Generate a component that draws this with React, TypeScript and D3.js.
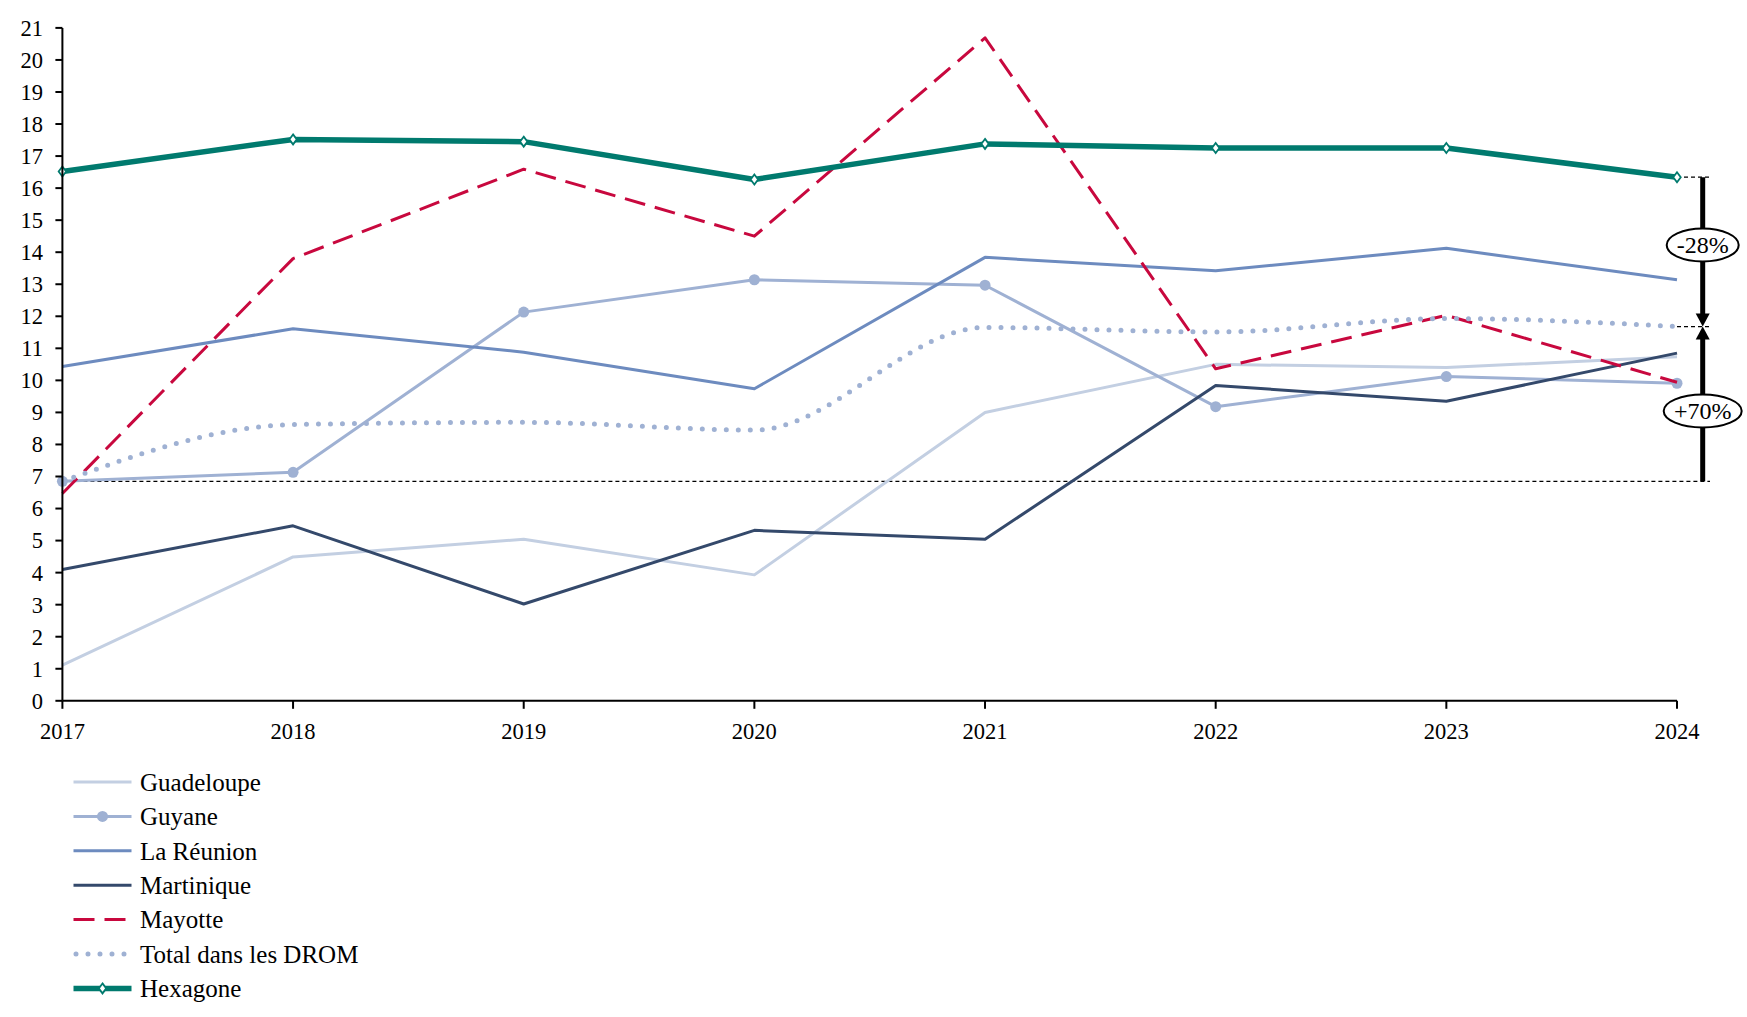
import React from "react";
import * as d3 from "d3";

const years = [2017, 2018, 2019, 2020, 2021, 2022, 2023, 2024];
const yTicks = d3.range(0, 22);

const guadeloupe = [1.11, 4.49, 5.04, 3.93, 9.0, 10.5, 10.4, 10.74];
const guyane = [6.85, 7.13, 12.13, 13.14, 12.97, 9.18, 10.12, 9.91];
const reunion = [10.43, 11.61, 10.88, 9.74, 13.84, 13.42, 14.12, 13.14];
const martinique = [4.1, 5.46, 3.02, 5.32, 5.04, 9.84, 9.35, 10.85];
const mayotte = [6.47, 13.8, 16.59, 14.5, 20.69, 10.36, 12.03, 9.94];
const totalDrom = [6.85, 8.62, 8.69, 8.45, 11.65, 11.51, 11.93, 11.68];
const hexagone = [16.52, 17.52, 17.45, 16.27, 17.38, 17.25, 17.25, 16.34];

const seriesNames = ["Guadeloupe", "Guyane", "La Réunion", "Martinique", "Mayotte", "Total dans les DROM", "Hexagone"];
const annotations = ["-28%", "+70%"];

const W = 1747, H = 1017;
const FONT = "'Palatino Linotype', 'Book Antiqua', Palatino, 'Liberation Serif', serif";

type Style = { color: string; width: number; dash?: string; cap?: string; marker?: "circle" | "diamond"; curve?: boolean };

const styles: Style[] = [
  { color: "#c3cfe2", width: 3 },
  { color: "#9fb1d3", width: 3, marker: "circle" },
  { color: "#6d8bbf", width: 3 },
  { color: "#34496b", width: 3 },
  { color: "#c8083e", width: 3, dash: "21 10" },
  { color: "#9fb1d3", width: 5, dash: "0 12", cap: "round", curve: true },
  { color: "#007a6e", width: 5.5, marker: "diamond" },
];
const allData = [guadeloupe, guyane, reunion, martinique, mayotte, totalDrom, hexagone];

export default function App() {
  const x = d3.scaleLinear().domain([2017, 2024]).range([62.4, 1677]);
  const y = d3.scaleLinear().domain([0, 21]).range([700.8, 27.9]);

  const mkLine = (curve: boolean) =>
    d3
      .line<number>()
      .x((_, i) => x(years[i]))
      .y((d) => y(d))
      .curve(curve ? d3.curveMonotoneX : d3.curveLinear);

  const arrowX = 1702.7;
  const hexEnd = hexagone[hexagone.length - 1];
  const totEnd = totalDrom[totalDrom.length - 1];
  const totStart = totalDrom[0];

  const legendY0 = 782;
  const legendStep = 34.4;

  const diamond = (cx: number, cy: number, r: number) =>
    `M${cx},${cy - r}L${cx + r * 0.75},${cy}L${cx},${cy + r}L${cx - r * 0.75},${cy}Z`;

  const head = (tipY: number, dir: 1 | -1) =>
    `M${arrowX},${tipY}L${arrowX - 7},${tipY - dir * 13}L${arrowX + 7},${tipY - dir * 13}Z`;

  return (
    <svg width={W} height={H} style={{ position: "absolute", left: 0, top: 0, background: "#fff" }} fontFamily={FONT}>
      {/* reference dashed lines */}
      <line x1={x(2017)} x2={1710} y1={y(totStart)} y2={y(totStart)} stroke="#000" strokeWidth={1.2} strokeDasharray="4 3" />
      <line x1={x(2024)} x2={1710} y1={y(hexEnd)} y2={y(hexEnd)} stroke="#000" strokeWidth={1.2} strokeDasharray="4 3" />
      <line x1={x(2024)} x2={1710} y1={y(totEnd)} y2={y(totEnd)} stroke="#000" strokeWidth={1.2} strokeDasharray="4 3" />

      {/* series */}
      {allData.map((data, k) => {
        const s = styles[k];
        return (
          <g key={k}>
            <path
              d={mkLine(!!s.curve)(data) || ""}
              fill="none"
              stroke={s.color}
              strokeWidth={s.width}
              strokeDasharray={s.dash}
              strokeLinecap={(s.cap as any) || "butt"}
              strokeLinejoin="round"
            />
            {s.marker === "circle" &&
              data.map((d, i) => <circle key={i} cx={x(years[i])} cy={y(d)} r={5.5} fill={s.color} />)}
            {s.marker === "diamond" &&
              data.map((d, i) => (
                <path key={i} d={diamond(x(years[i]), y(d), 5)} fill="#fff" stroke={s.color} strokeWidth={1.8} />
              ))}
          </g>
        );
      })}

      {/* axes */}
      <line x1={x(2017)} x2={x(2017)} y1={y(21)} y2={y(0)} stroke="#000" strokeWidth={2} />
      <line x1={x(2017)} x2={x(2024)} y1={y(0)} y2={y(0)} stroke="#000" strokeWidth={2} />
      {yTicks.map((t) => (
        <g key={t}>
          <line x1={x(2017) - 7} x2={x(2017)} y1={y(t)} y2={y(t)} stroke="#000" strokeWidth={2} />
          <text x={43} y={y(t)} dy="0.35em" textAnchor="end" fontSize={22.5} fill="#000">
            {t}
          </text>
        </g>
      ))}
      {years.map((yr) => (
        <g key={yr}>
          <line x1={x(yr)} x2={x(yr)} y1={y(0)} y2={y(0) + 8} stroke="#000" strokeWidth={2} />
          <text x={x(yr)} y={y(0) + 38} textAnchor="middle" fontSize={22.5} fill="#000">
            {yr}
          </text>
        </g>
      ))}

      {/* arrows */}
      <line x1={arrowX} x2={arrowX} y1={y(hexEnd)} y2={y(totEnd) - 10} stroke="#000" strokeWidth={5} />
      <path d={head(y(totEnd), 1)} fill="#000" />
      <line x1={arrowX} x2={arrowX} y1={y(totStart)} y2={y(totEnd) + 10} stroke="#000" strokeWidth={5} />
      <path d={head(y(totEnd), -1)} fill="#000" />
      {[
        { label: annotations[0], cy: 245, rx: 36 },
        { label: annotations[1], cy: 411, rx: 39 },
      ].map((a) => (
        <g key={a.label}>
          <ellipse cx={arrowX} cy={a.cy} rx={a.rx} ry={16.5} fill="#fff" stroke="#000" strokeWidth={2} />
          <text x={arrowX} y={a.cy} dy="0.35em" textAnchor="middle" fontSize={24} fill="#000">
            {a.label}
          </text>
        </g>
      ))}

      {/* legend */}
      {seriesNames.map((name, k) => {
        const s = styles[k];
        const ly = legendY0 + k * legendStep;
        return (
          <g key={name}>
            <line
              x1={s.cap ? 76 : 73.5}
              x2={131.5}
              y1={ly}
              y2={ly}
              stroke={s.color}
              strokeWidth={s.width}
              strokeDasharray={s.dash}
              strokeLinecap={(s.cap as any) || "butt"}
            />
            {s.marker === "circle" && <circle cx={102.5} cy={ly} r={5.5} fill={s.color} />}
            {s.marker === "diamond" && <path d={diamond(102.5, ly, 5)} fill="#fff" stroke={s.color} strokeWidth={1.8} />}
            <text x={140} y={ly} dy="0.35em" fontSize={25} fill="#000">
              {name}
            </text>
          </g>
        );
      })}
    </svg>
  );
}
